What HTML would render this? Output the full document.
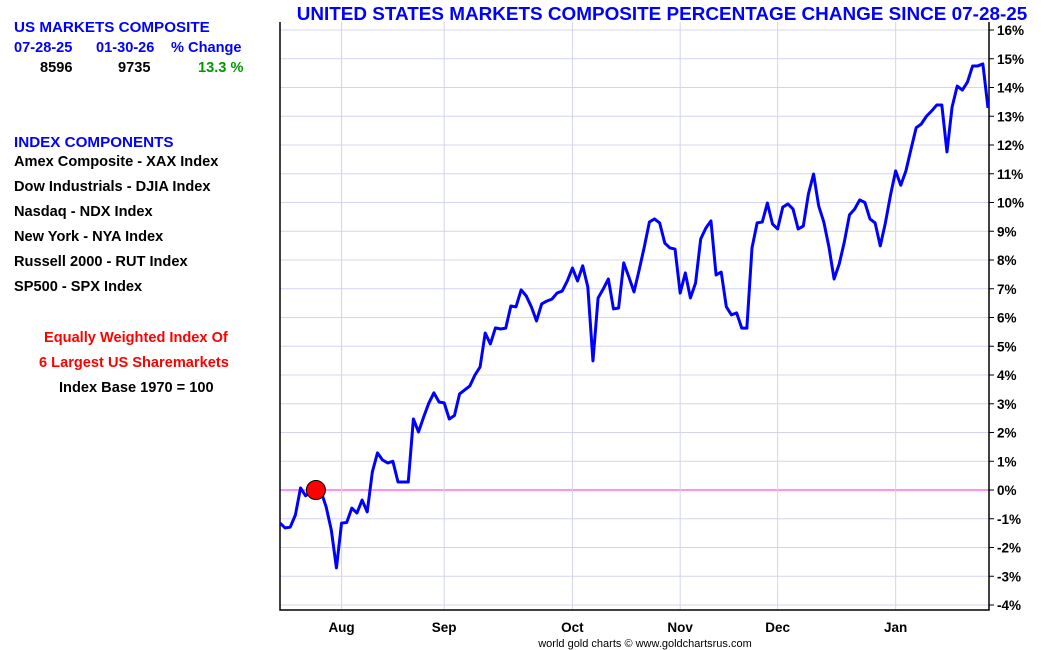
<!DOCTYPE html>
<html><head><meta charset="utf-8"><style>
body{margin:0;width:1050px;height:650px;background:#fff;font-family:"Liberation Sans",Arial,sans-serif;position:relative;overflow:hidden}
.t{position:absolute;font-weight:bold;font-size:14.6px;white-space:nowrap}
</style></head><body>
<div class="t" style="left:14px;top:19px;color:#0000ff;font-size:15.2px">US MARKETS COMPOSITE</div>
<div class="t" style="left:14px;top:40px;color:#0000ff">07-28-25</div>
<div class="t" style="left:96px;top:40px;color:#0000ff">01-30-26</div>
<div class="t" style="left:171px;top:40px;color:#0000ff">% Change</div>
<div class="t" style="left:40px;top:60px">8596</div>
<div class="t" style="left:118px;top:60px">9735</div>
<div class="t" style="left:198px;top:60px;color:#009900">13.3 %</div>
<div class="t" style="left:14px;top:134px;color:#0000ff;font-size:15.2px">INDEX COMPONENTS</div>
<div class="t" style="left:14px;top:154px">Amex Composite - XAX Index</div>
<div class="t" style="left:14px;top:179px">Dow Industrials - DJIA Index</div>
<div class="t" style="left:14px;top:204px">Nasdaq - NDX Index</div>
<div class="t" style="left:14px;top:229px">New York - NYA Index</div>
<div class="t" style="left:14px;top:254px">Russell 2000 - RUT Index</div>
<div class="t" style="left:14px;top:279px">SP500 - SPX Index</div>
<div class="t" style="left:44px;top:330px;color:#ff0000">Equally Weighted Index Of</div>
<div class="t" style="left:39px;top:355px;color:#ff0000">6 Largest US Sharemarkets</div>
<div class="t" style="left:59px;top:380px">Index Base 1970 = 100</div>
<svg id="chart" width="1050" height="650" style="position:absolute;left:0;top:0">
<text x="662" y="20" text-anchor="middle" font-family="Liberation Sans, Arial, sans-serif" font-weight="bold" font-size="18.9" fill="#0000ff">UNITED STATES MARKETS COMPOSITE PERCENTAGE CHANGE SINCE 07-28-25</text>
<text x="645" y="647" text-anchor="middle" font-family="Liberation Sans, Arial, sans-serif" font-size="11" fill="#000">world gold charts © www.goldchartsrus.com</text>
</svg>
<script>
const yTicks=[16,15,14,13,12,11,10,9,8,7,6,5,4,3,2,1,0,-1,-2,-3,-4];
const monthLabels=["Aug","Sep","Oct","Nov","Dec","Jan"];
const monthIndex=[12,32,57,78,97,120];
const values=[-1.15,-1.32,-1.29,-0.87,0.07,-0.2,-0.07,0.0,-0.05,-0.59,-1.39,-2.71,-1.15,-1.13,-0.63,-0.8,-0.35,-0.76,0.63,1.29,1.04,0.94,1.0,0.28,0.28,0.28,2.47,2.02,2.54,3.02,3.38,3.06,3.03,2.47,2.59,3.34,3.48,3.62,4.0,4.28,5.46,5.08,5.64,5.6,5.63,6.4,6.37,6.96,6.75,6.37,5.88,6.47,6.57,6.64,6.85,6.92,7.27,7.72,7.27,7.8,7.06,4.49,6.68,6.99,7.34,6.3,6.33,7.9,7.41,6.89,7.65,8.45,9.32,9.43,9.29,8.59,8.42,8.38,6.85,7.55,6.68,7.2,8.73,9.11,9.36,7.48,7.58,6.37,6.09,6.16,5.63,5.63,8.42,9.29,9.32,9.98,9.25,9.08,9.84,9.95,9.77,9.08,9.18,10.3,10.99,9.88,9.32,8.45,7.34,7.86,8.63,9.57,9.77,10.09,10.0,9.43,9.29,8.49,9.29,10.26,11.1,10.6,11.1,11.86,12.6,12.73,13.0,13.18,13.39,13.39,11.76,13.32,14.05,13.91,14.19,14.75,14.75,14.82,13.29];
const markerIndex=7;
const NS="http://www.w3.org/2000/svg";
const svg=document.getElementById('chart');
const L=280,R=989,T=22,B=610;
const y=v=>490-v*28.75;
const x=i=>L+i*(R-1-L)/(values.length-1);
function mk(tag,a){const e=document.createElementNS(NS,tag);for(const k in a)e.setAttribute(k,a[k]);svg.appendChild(e);return e;}
yTicks.forEach(v=>{
  const g=mk('line',{x1:L,x2:R,y1:y(v),y2:y(v),stroke:v===0?'#ff22ee':'#d4d4f0','stroke-width':1});
  
  
  const tk=mk('line',{x1:R,x2:R+5,y1:y(v),y2:y(v),stroke:'#000'});
  
  
  const t=mk('text',{x:R+8,y:y(v)+5,'font-family':'Liberation Sans, Arial, sans-serif','font-weight':'bold','font-size':'13.5',fill:'#000'});
  t.textContent=v+'%';
  
  
});
monthIndex.forEach((mi,k)=>{
  const g=mk('line',{x1:x(mi),x2:x(mi),y1:T,y2:B,stroke:'#d4d4f0'});
  
  
  const t=mk('text',{x:x(mi),y:B+22,'text-anchor':'middle','font-family':'Liberation Sans, Arial, sans-serif','font-weight':'bold','font-size':'13.5',fill:'#000'});
  t.textContent=monthLabels[k];
  
  
});
const ax=mk('path',{d:`M${L},${T}V${B}H${R}V${T}`,fill:'none',stroke:'#000','stroke-width':1.5});


const ln=mk('polyline',{points:values.map((v,i)=>x(i)+','+y(v)).join(' '),fill:'none',stroke:'#0000ff','stroke-width':3,'stroke-linejoin':'round'});


const c=mk('circle',{cx:x(markerIndex),cy:y(values[markerIndex]),r:9.5,fill:'#ff0000',stroke:'#000','stroke-width':1});


</script>
</body></html>
